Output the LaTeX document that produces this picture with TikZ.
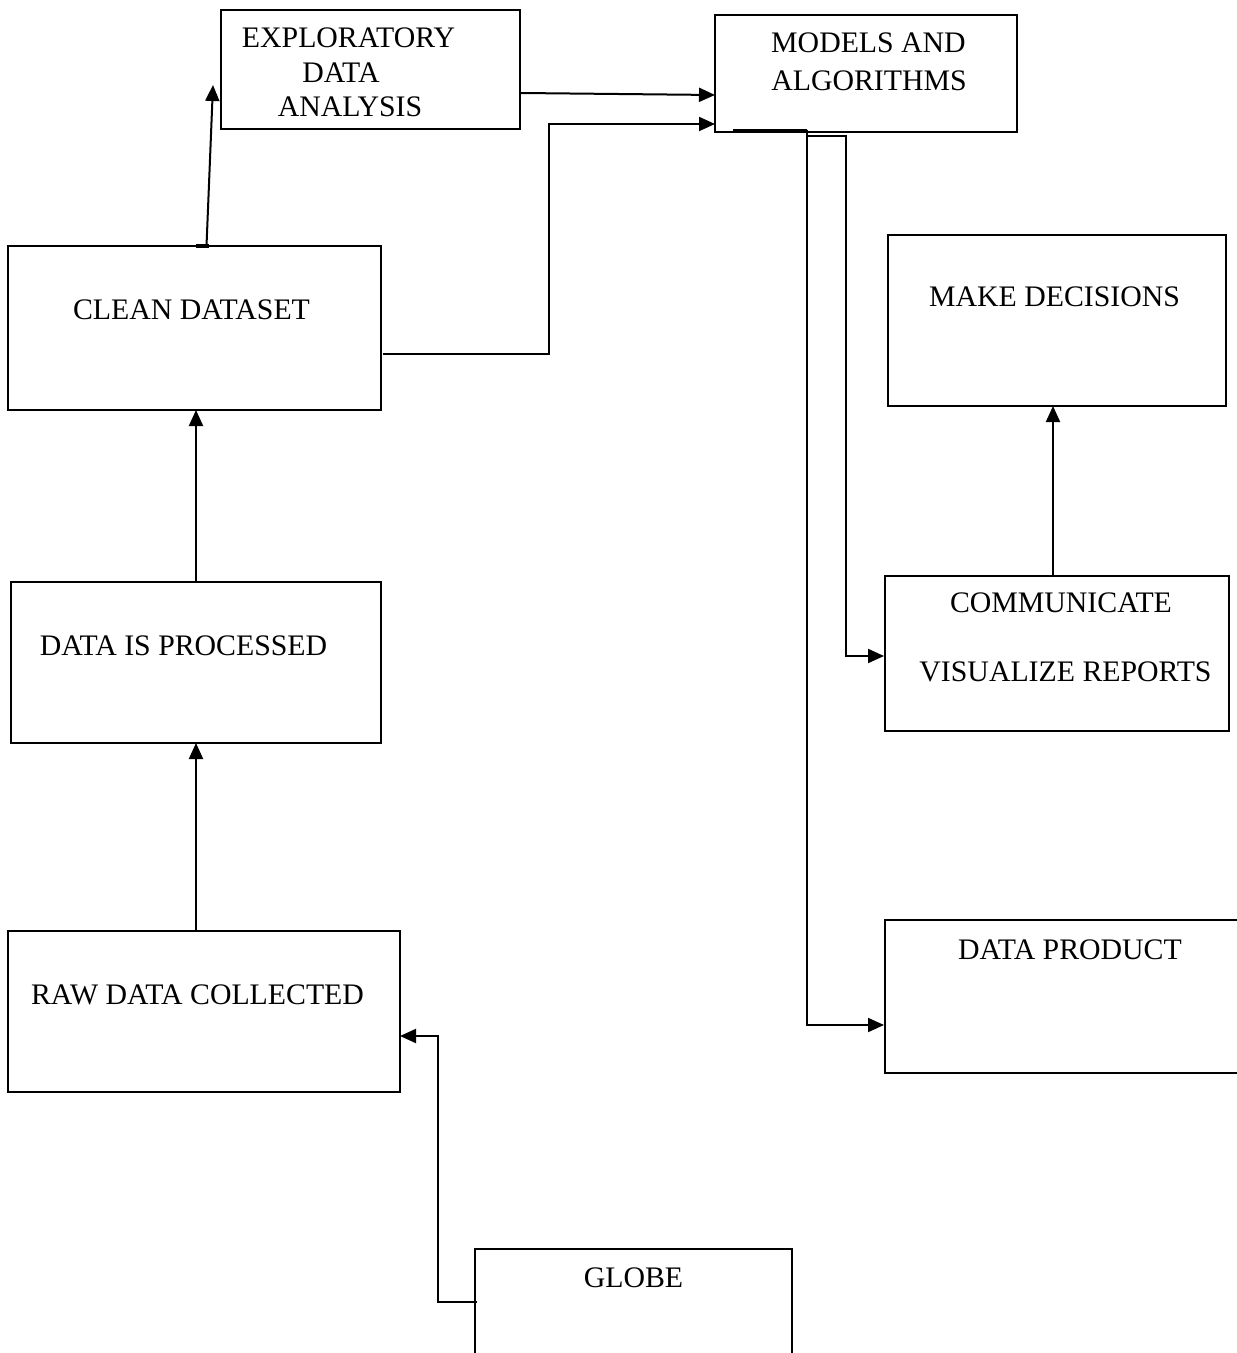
\documentclass[tikz,border=0pt]{standalone}
\usepackage{fontspec}
\setmainfont{Liberation Serif}
\usetikzlibrary{arrows.meta,calc}
\begin{document}
\begin{tikzpicture}[x=0.5pt,y=-0.5pt,
  box/.style={draw,line width=0.6pt,rectangle,inner sep=0pt,outer sep=0pt},
  txt/.style={inner sep=0pt,font=\fontsize{14.9}{17}\selectfont},
  conn/.style={line width=1pt},
  arr/.style={line width=1pt,-{Triangle[length=8pt,width=7pt]}}]
\useasboundingbox (0,0) rectangle (1236,1353);
% boxes
\node[box,minimum width=149.5pt,minimum height=59.5pt] (eda) at (370.5,69.5) {};
\node[box,minimum width=151pt,minimum height=58.5pt] (models) at (866,73.5) {};
\node[box,minimum width=186.5pt,minimum height=82pt] (clean) at (194.5,328) {};
\node[box,minimum width=169pt,minimum height=85.5pt] (make) at (1057,320.5) {};
\node[box,minimum width=185pt,minimum height=80.5pt] (proc) at (196,662.5) {};
\node[box,minimum width=172pt,minimum height=77.5pt] (comm) at (1057,653.5) {};
\node[box,minimum width=180pt,minimum height=76.5pt] (prod) at (1065,996.5) {};
\node[box,minimum width=196pt,minimum height=80.5pt] (raw) at (204,1011.5) {};
\node[box,minimum width=158.5pt,minimum height=60.5pt] (globe) at (633.5,1309.5) {};
% texts
\node[txt] (edat1) at (348.5,38) {EXPLORATORY};
\node[txt] (edat2) at (341,73) {DATA};
\node[txt] (edat3) at (350,106.5) {ANALYSIS};
\node[txt] (modt1) at (868.5,43) {MODELS AND};
\node[txt] (modt2) at (869,81) {ALGORITHMS};
\node[txt] (cleant) at (191.5,310) {CLEAN DATASET};
\node[txt] (maket) at (1054.5,297) {MAKE DECISIONS};
\node[txt] (proct) at (183.5,646) {DATA IS PROCESSED};
\node[txt] (commt1) at (1061,603) {COMMUNICATE};
\node[txt] (commt2) at (1065.5,672) {VISUALIZE REPORTS};
\node[txt] (prodt) at (1070,949.5) {DATA PRODUCT};
\node[txt] (rawt) at (197.5,995) {RAW DATA COLLECTED};
\node[txt] (globet) at (633.5,1278) {GLOBE};
% connectors
\draw[arr] ($(clean.north)+(12,0)$) -- ($(eda.west)+(-8,15.5)$);
\draw[line width=1.6pt] ($(clean.north)+(1.5,0)$) -- ++(13,0);
\draw[arr] ($(eda.east)+(1,23.5)$) -- ($(models.west)+(0,21.5)$);
\draw[arr] ($(clean.east)+(2,26)$) -- ++(166,0) |- ($(models.west)+(0,50.5)$);
\draw[conn] ($(models.south west)+(18,-2)$) -- ++(74,0);
\draw[arr] ($(models.south west)+(92,-2)$) |- ($(prod.west)+(-1,28.5)$);
\draw[arr] ($(models.south west)+(92,4)$) -- ++(39,0) |- ($(comm.west)+(-1,2.5)$);
\draw[arr] ($(comm.north)+(-4,0)$) -- ($(make.south)+(-4,0)$);
\draw[arr] (proc.north) -- (proc.north |- clean.south);
\draw[arr] (raw.north -| proc.south) -- (proc.south);
\draw[arr] ($(globe.west)+(2,-7.5)$) -- ++(-39,0) |- ($(raw.east)+(0,24.5)$);
\end{tikzpicture}
\end{document}
